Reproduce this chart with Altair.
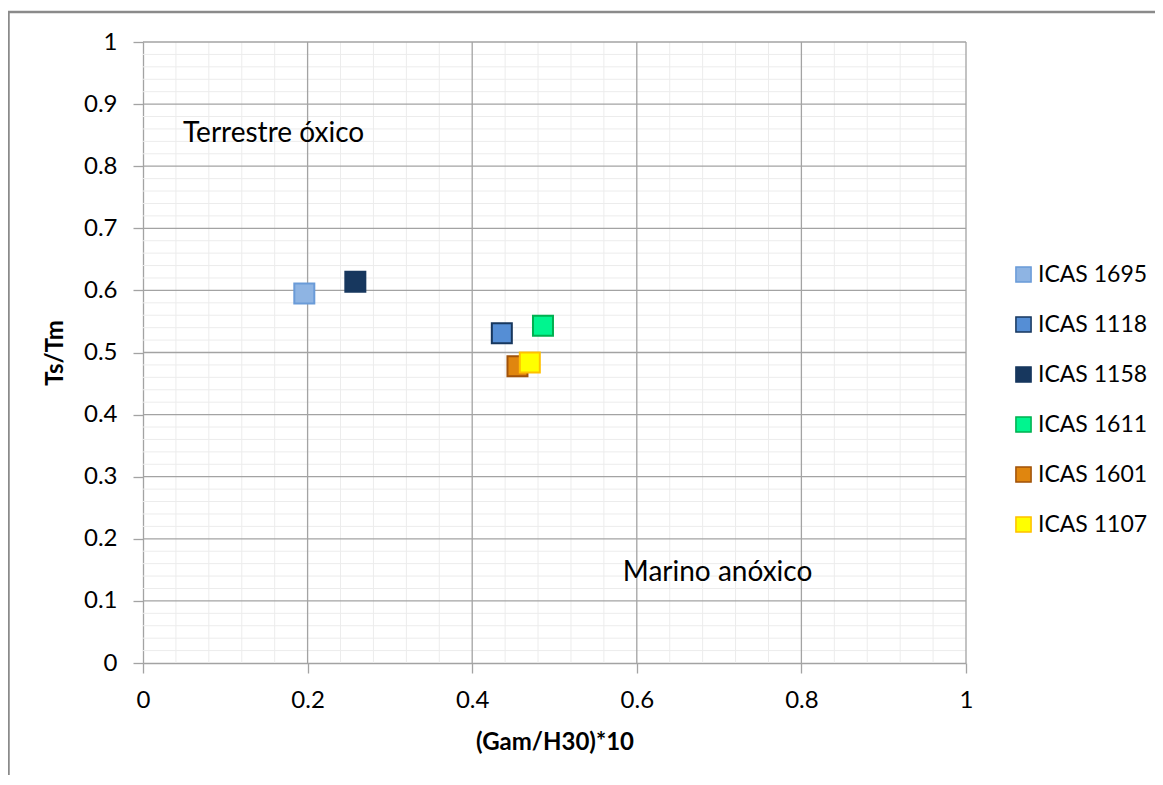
import altair as alt
import pandas as pd

# ---- data ----
series = ["ICAS 1695", "ICAS 1118", "ICAS 1158", "ICAS 1611", "ICAS 1601", "ICAS 1107"]
gam_h30 = [0.196, 0.436, 0.258, 0.486, 0.455, 0.470]
ts_tm = [0.595, 0.531, 0.614, 0.543, 0.478, 0.484]
fill_colors = ["#8EB4E3", "#558ED5", "#17375E", "#00F58F", "#E0860F", "#FFFF00"]
stroke_colors = ["#6A9BD8", "#17375E", "#17375E", "#00B050", "#A0520A", "#FFC000"]

x_major = [0, 0.2, 0.4, 0.6, 0.8, 1]
y_major = [0, 0.1, 0.2, 0.3, 0.4, 0.5, 0.6, 0.7, 0.8, 0.9, 1]
x_minor = [0.04, 0.08, 0.12, 0.16, 0.24, 0.28, 0.32, 0.36, 0.44, 0.48, 0.52, 0.56,
           0.64, 0.68, 0.72, 0.76, 0.84, 0.88, 0.92, 0.96]
y_minor = [round(i * 0.02, 2) for i in range(51) if i % 5 != 0]

note_text = ["Terrestre óxico", "Marino anóxico"]
note_x = [0.0486, 0.583]
note_y = [0.8395, 0.1325]

FONT = "Lato"
GRID = "#a3a3a3"

df = pd.DataFrame({"series": series, "x": gam_h30, "y": ts_tm})
notes = pd.DataFrame({"t": note_text, "x": note_x, "y": note_y})

xscale = alt.Scale(domain=[0, 1], nice=False, zero=False)
yscale = alt.Scale(domain=[0, 1], nice=False, zero=False)

xminor = alt.Chart(pd.DataFrame({"v": x_minor})).mark_rule(color="#ececec", strokeWidth=1).encode(
    x=alt.X("v:Q", scale=xscale))
yminor = alt.Chart(pd.DataFrame({"v": y_minor})).mark_rule(color="#ececec", strokeWidth=1).encode(
    y=alt.Y("v:Q", scale=yscale))
xmajor = alt.Chart(pd.DataFrame({"v": x_major[1:]})).mark_rule(color=GRID, strokeWidth=1.3).encode(
    x=alt.X("v:Q", scale=xscale))
ymajor = alt.Chart(pd.DataFrame({"v": y_major[1:]})).mark_rule(color=GRID, strokeWidth=1.3).encode(
    y=alt.Y("v:Q", scale=yscale))

legend = alt.Legend(
    title=None, orient="none", legendX=869, legendY=221, padding=0,
    symbolType="square", symbolSize=230, symbolStrokeWidth=1.5,
    labelFont=FONT, labelFontSize=23, labelColor="#000000", labelOffset=3,
    rowPadding=26,
)

points = alt.Chart(df).mark_point(filled=True, shape="square", size=400, strokeWidth=2, opacity=1).encode(
    x=alt.X("x:Q", scale=xscale, title="(Gam/H30)*10",
            axis=alt.Axis(values=x_major, format="~g", grid=False, tickSize=10, labelPadding=15,
                          labelFlush=False, titlePadding=18)),
    y=alt.Y("y:Q", scale=yscale, title="Ts/Tm",
            axis=alt.Axis(values=y_major, format="~g", grid=False, tickSize=10, labelPadding=16,
                          labelFlush=False, titlePadding=16)),
    fill=alt.Fill("series:N", scale=alt.Scale(domain=series, range=fill_colors), legend=legend),
    stroke=alt.Stroke("series:N", scale=alt.Scale(domain=series, range=stroke_colors), legend=legend),
    order=alt.Order("idx:Q"),
).transform_window(idx="row_number()")

text = alt.Chart(notes).mark_text(align="left", baseline="alphabetic", font=FONT, fontSize=28,
                                  color="#000000").encode(
    x=alt.X("x:Q", scale=xscale), y=alt.Y("y:Q", scale=yscale), text="t:N")

one = pd.DataFrame({"a": [0]})
border_left = alt.Chart(one).mark_rule(color="#8a8a8a", strokeWidth=2.5).encode(
    x=alt.value(-134.5), y=alt.value(-30), y2=alt.value(800))
border_top = alt.Chart(one).mark_rule(color="#8a8a8a", strokeWidth=2.5).encode(
    x=alt.value(-135), x2=alt.value(1100), y=alt.value(-30))

chart = alt.layer(xminor, yminor, xmajor, ymajor, text, points, border_left, border_top).properties(
    width=823, height=621,
    padding={"left": 135, "top": 34, "right": 189, "bottom": 112},
    autosize=alt.AutoSizeParams(type="none"),
).configure_view(stroke=None).configure_axis(
    domainColor=GRID, domainWidth=1.3, tickColor=GRID, tickWidth=1.3,
    labelFont=FONT, labelFontSize=24, labelColor="#000000",
    titleFont=FONT, titleFontSize=24, titleFontWeight="bold", titleColor="#000000",
)

chart.save("out.html", embed_options={"renderer": "svg", "actions": False})
